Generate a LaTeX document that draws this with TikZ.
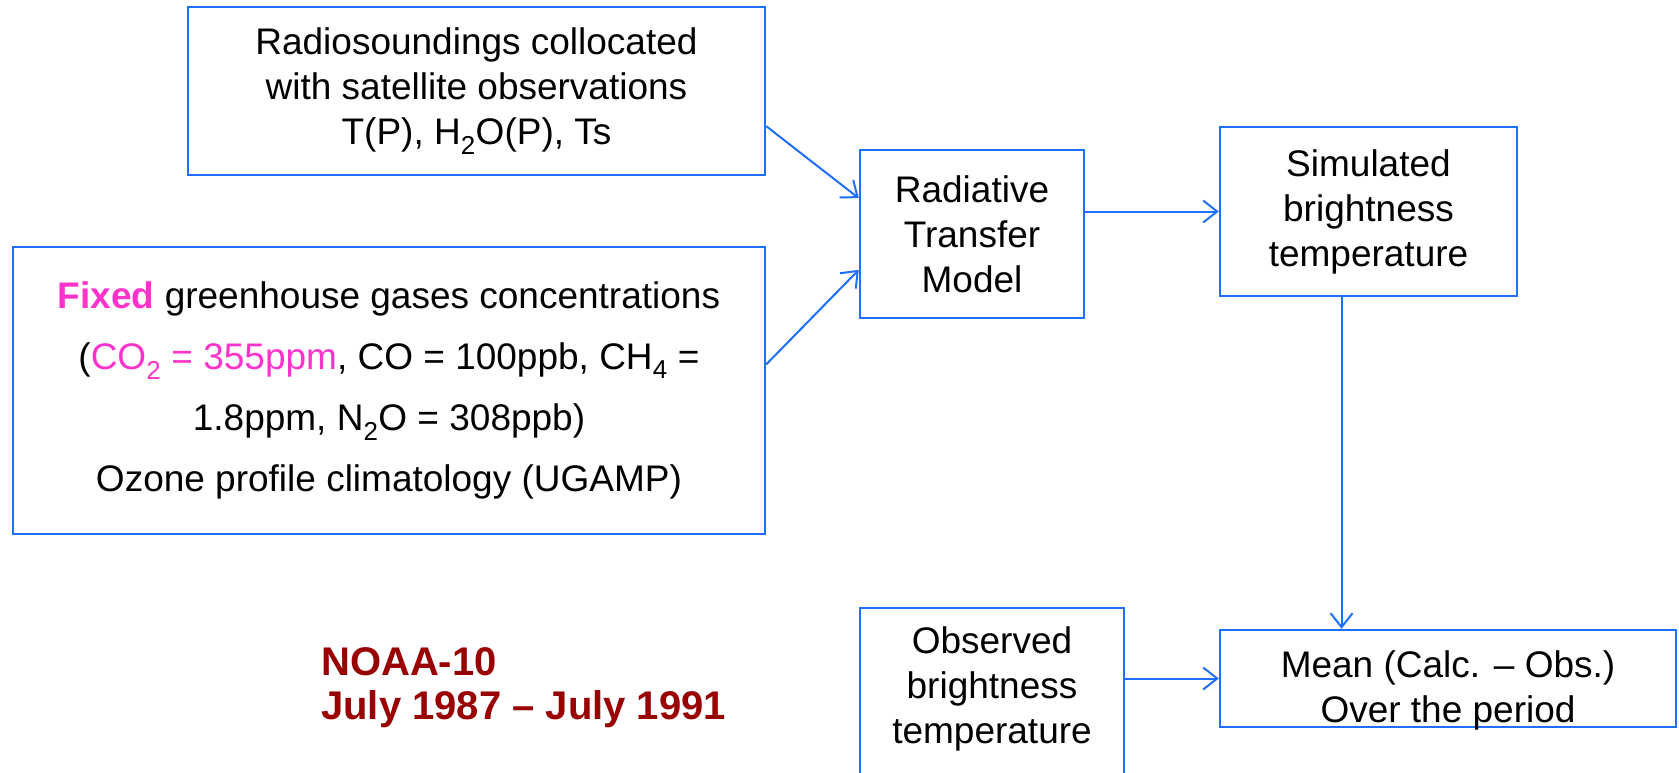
\documentclass[tikz,border=0pt]{standalone}
\usepackage{fontspec}
\setmainfont{Liberation Sans}
\usetikzlibrary{arrows.meta,calc}
\definecolor{lineblue}{RGB}{31,111,255}
\definecolor{magentax}{RGB}{255,51,204}
\definecolor{darkredx}{RGB}{153,0,0}
\begin{document}
\begin{tikzpicture}[x=1pt,y=-1pt,
  box/.style={draw=lineblue, line width=2.4pt, inner sep=0pt, align=center, font=\fontsize{37}{45}\selectfont},
  arr/.style={draw=lineblue, line width=2pt, -{Straight Barb[length=14pt,width=22pt,line width=2pt]}},
  plain/.style={inner sep=0pt, align=center, font=\fontsize{37}{45}\selectfont}]
\path[clip] (0,0) rectangle (1679,773);
\node[box, minimum width=577pt, minimum height=167.5pt] (rs) at (476.5,91)
  {Radiosoundings collocated\\with satellite observations\\T(P), H\textsubscript{2}O(P), Ts};
\node[box, minimum width=752pt, minimum height=287pt, font=\fontsize{37}{61}\selectfont] (ghg) at (389,390.5)
  {{\color{magentax}\bfseries Fixed} greenhouse gases concentrations\\
   ({\color{magentax}CO\textsubscript{2} = 355ppm}, CO = 100ppb, CH\textsubscript{4} =\\
   1.8ppm, N\textsubscript{2}O = 308ppb)\\
   Ozone profile climatology (UGAMP)};
\node[box, minimum width=224pt, minimum height=168pt] (rtm) at (972,234) {Radiative\\Transfer\\Model};
\node[box, minimum width=297pt, minimum height=169pt] (sim) at (1368.5,211.5) {Simulated\\brightness\\temperature};
\node[box, minimum width=264pt, minimum height=200pt, anchor=north] (obs) at (992,607) {};
\node[plain] (obstxt) at (992,689) {Observed\\brightness\\temperature};
\node[box, minimum width=456pt, minimum height=97pt] (mean) at (1448,678.5) {};
\node[plain] (meantxt) at (1448,690) {Mean (Calc. – Obs.)\\Over the period};
\node[anchor=west, inner sep=0pt, align=left, text=darkredx, font=\bfseries\fontsize{40}{44}\selectfont] (noaa) at (321,688)
  {NOAA-10\\July 1987 – July 1991};
\draw[arr] ($(rs.north east)!0.707!(rs.south east)$) -- ($(rtm.north west)!0.29!(rtm.south west)$);
\draw[arr] ($(ghg.north east)!0.41!(ghg.south east)$) -- ($(rtm.north west)!0.71!(rtm.south west)$);
\draw[arr] (rtm.east |- sim.west) -- (sim.west);
\coordinate (simout) at ($(sim.south west)!0.41!(sim.south east)$);
\draw[arr] (simout) -- (simout |- mean.north);
\draw[arr] (obs.east |- mean.west) -- (mean.west);
\end{tikzpicture}
\end{document}
